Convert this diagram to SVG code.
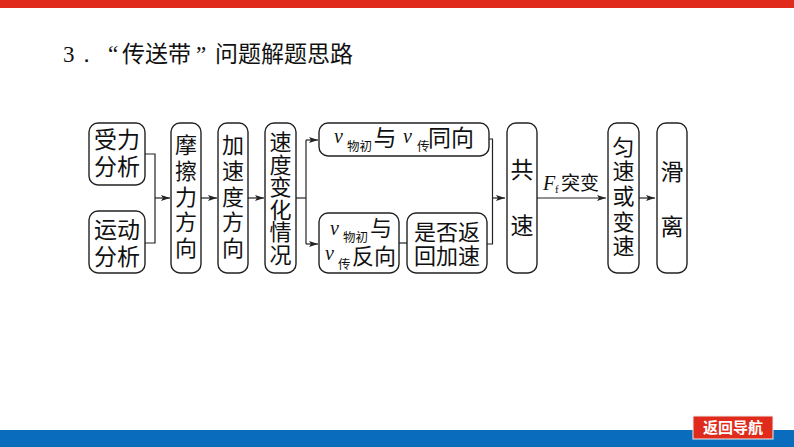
<svg xmlns="http://www.w3.org/2000/svg" width="794" height="447" viewBox="0 0 794 447">
<style>
text{font-family:"Noto Sans CJK SC","Noto Sans",sans-serif;fill:#111;font-weight:400}
.t{font-size:23px;text-anchor:middle}
.u{font-size:22px;text-anchor:middle}
.s{font-size:12.500px}
.v{font-family:"Liberation Serif",serif;font-style:italic;font-size:20px}
.b{fill:#fff;stroke:#222;stroke-width:1.4}
.c{fill:none;stroke:#222;stroke-width:1.2}
</style>
<defs><marker id="a" markerWidth="10" markerHeight="8" refX="9" refY="4" orient="auto" markerUnits="userSpaceOnUse"><path d="M0 1L9 4L0 7L2 4Z" fill="#222"/></marker></defs>
<rect width="794" height="447" fill="#fff"/>
<rect id="top-bar" width="794" height="8" fill="#e02b1c"/>
<rect id="bottom-bar" y="430" width="794" height="17" fill="#0a6cbd"/>
<g id="title">
<text x="63" y="62" font-size="23" style="font-family:'Liberation Serif',serif">3．</text>
<text x="108" y="62" font-size="23" style="font-family:'Liberation Serif',serif">“</text>
<text x="122" y="62" font-size="23">传送带</text>
<text x="196" y="62" font-size="23" style="font-family:'Liberation Serif',serif">”</text>
<text x="215" y="62" font-size="23">问题解题思路</text>
</g>
<g id="connectors">
<path class="c" d="M145 154H155V243H145"/>
<path class="c" d="M155 198H170" marker-end="url(#a)"/>
<path class="c" d="M201 198H217" marker-end="url(#a)"/>
<path class="c" d="M248 198H264" marker-end="url(#a)"/>
<path class="c" d="M296 198H306"/>
<path class="c" d="M306 140V244"/>
<path class="c" d="M306 140H318" marker-end="url(#a)"/>
<path class="c" d="M306 244H318" marker-end="url(#a)"/>
<path class="c" d="M399 243H407"/>
<path class="c" d="M489 139H492.500V244H487"/>
<path class="c" d="M492.500 198H505" marker-end="url(#a)"/>
<path class="c" d="M537 198H606" marker-end="url(#a)"/>
<path class="c" d="M639 198H655" marker-end="url(#a)"/>
</g>
<g id="n1"><rect class="b" x="89" y="123" width="56" height="62" rx="9"/><text class="t" x="117" y="148">受力</text><text class="t" x="117" y="175">分析</text></g>
<g id="n2"><rect class="b" x="89" y="211" width="56" height="62" rx="9"/><text class="t" x="117" y="238">运动</text><text class="t" x="117" y="265">分析</text></g>
<g id="n3"><rect class="b" x="171" y="123" width="30" height="150" rx="9"/><text class="u" x="186" y="153">摩</text><text class="u" x="186" y="179">擦</text><text class="u" x="186" y="205">力</text><text class="u" x="186" y="230">方</text><text class="u" x="186" y="256">向</text></g>
<g id="n4"><rect class="b" x="218" y="123" width="30" height="150" rx="9"/><text class="u" x="233" y="153">加</text><text class="u" x="233" y="179">速</text><text class="u" x="233" y="205">度</text><text class="u" x="233" y="230">方</text><text class="u" x="233" y="256">向</text></g>
<g id="n5"><rect class="b" x="265" y="123" width="31" height="150" rx="9"/><text class="u" x="280.500" y="150">速</text><text class="u" x="280.500" y="172.500">度</text><text class="u" x="280.500" y="195">变</text><text class="u" x="280.500" y="217.500">化</text><text class="u" x="280.500" y="240">情</text><text class="u" x="280.500" y="263">况</text></g>
<g id="n6"><rect class="b" x="319" y="123" width="170" height="33" rx="9"/><text class="v" x="334" y="143">v</text><text class="s" x="347" y="151">物初</text><text class="t" x="385" y="146">与</text><text class="v" x="403" y="143">v</text><text class="s" x="417" y="151">传</text><text class="t" x="451" y="146">同向</text></g>
<g id="n7"><rect class="b" x="319" y="213" width="80" height="60" rx="9"/><text class="v" x="330" y="235">v</text><text class="s" x="343" y="242">物初</text><text class="u" x="381" y="236">与</text><text class="v" x="325" y="260">v</text><text class="s" x="338" y="269">传</text><text class="u" x="374" y="264">反向</text></g>
<g id="n8"><rect class="b" x="407" y="213" width="80" height="60" rx="9"/><text class="u" x="447" y="240">是否返</text><text class="u" x="447" y="264">回加速</text></g>
<g id="n9"><rect class="b" x="507" y="123" width="30" height="150" rx="9"/><text class="t" x="522" y="178">共</text><text class="t" x="522" y="234">速</text></g>
<g id="edge-label"><text class="v" x="543" y="190">F</text><text x="555" y="193" font-size="11" style="font-family:'Liberation Serif',serif">f</text><text x="561" y="190" font-size="19">突变</text></g>
<g id="n10"><rect class="b" x="608" y="123" width="31" height="150" rx="9"/><text class="u" x="623.500" y="155">匀</text><text class="u" x="623.500" y="179">速</text><text class="u" x="623.500" y="204">或</text><text class="u" x="623.500" y="230">变</text><text class="u" x="623.500" y="254">速</text></g>
<g id="n11"><rect class="b" x="657" y="123" width="30" height="150" rx="9"/><text class="t" x="672" y="180">滑</text><text class="t" x="672" y="235">离</text></g>
<g id="nav"><rect x="693" y="416" width="80" height="23" fill="#e02b1c" stroke="#eee"/><text x="733" y="433" font-size="15" text-anchor="middle" style="fill:#fff;font-weight:700">返回导航</text></g>
</svg>
